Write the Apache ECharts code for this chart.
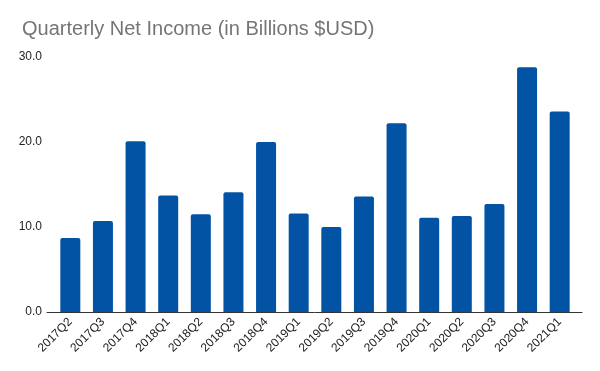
<!DOCTYPE html>
<html>
<head>
<meta charset="utf-8">
<script src="https://cdn.jsdelivr.net/npm/echarts@6/dist/echarts.min.js"></script>
<style>html,body{margin:0;padding:0;background:#fff}#c{width:600px;height:371px}</style>
</head>
<body>
<div id="c"></div>
<script>
const categories = ['2017Q2','2017Q3','2017Q4','2018Q1','2018Q2','2018Q3','2018Q4','2019Q1','2019Q2','2019Q3','2019Q4','2020Q1','2020Q2','2020Q3','2020Q4','2021Q1'];
const netIncome = [8.7, 10.7, 20.1, 13.7, 11.5, 14.1, 20.0, 11.6, 10.0, 13.6, 22.2, 11.1, 11.3, 12.7, 28.8, 23.6];
const yTicks = [0, 10, 20, 30];

const chart = echarts.init(document.getElementById('c'), null, {renderer: 'canvas'});
chart.setOption({
  animation: false,
  backgroundColor: '#ffffff',
  title: {
    text: 'Quarterly Net Income (in Billions $USD)',
    left: 17, top: 14,
    textStyle: {fontFamily: 'Liberation Sans, Arial', fontSize: 20, fontWeight: 'normal', color: '#757575'}
  },
  grid: [
    {left: 54, right: 24, top: 57, bottom: 59},
    {left: 47, right: 18, top: 57, bottom: 59}
  ],
  xAxis: [
    {
      type: 'category', data: categories, gridIndex: 0,
      axisLine: {show: false}, axisTick: {show: false},
      axisLabel: {rotate: 45, margin: 8, fontFamily: 'Liberation Sans, Arial', fontSize: 12, color: '#222222', interval: 0}
    },
    {
      type: 'value', gridIndex: 1, min: 0, max: 1,
      axisLine: {show: true, lineStyle: {color: '#333333', width: 1}},
      axisTick: {show: false}, axisLabel: {show: false}, splitLine: {show: false}
    }
  ],
  yAxis: [
    {
      type: 'value', gridIndex: 0, min: yTicks[0], max: yTicks[yTicks.length - 1], interval: 10,
      axisLine: {show: false}, axisTick: {show: false}, splitLine: {show: false},
      axisLabel: {margin: 12, formatter: v => v.toFixed(1), fontFamily: 'Liberation Sans, Arial', fontSize: 12, color: '#222222'}
    },
    {
      type: 'value', gridIndex: 1, min: 0, max: 1, show: false
    }
  ],
  series: [{
    type: 'bar', xAxisIndex: 0, yAxisIndex: 0,
    data: netIncome,
    barWidth: 20,
    itemStyle: {color: '#0353A4', borderRadius: [2, 2, 0, 0]}
  }]
});
</script>
</body>
</html>
